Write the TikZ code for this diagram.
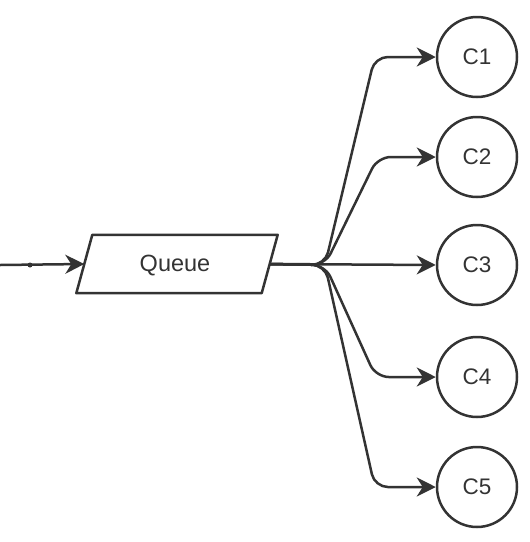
\documentclass[tikz,border=0pt]{standalone}
\usepackage{fontspec}
\setmainfont{Liberation Sans}
\usetikzlibrary{arrows.meta}
\definecolor{ink}{RGB}{51,51,51}
\begin{document}
\begin{tikzpicture}[x=1pt,y=-1pt,
  cons/.style={circle,draw=ink,line width=2.5pt,minimum size=80pt,inner sep=0pt,text=ink,font=\fontsize{22.5}{26}\selectfont},
  link/.style={draw=ink,line width=2.5pt,rounded corners=13pt,-{Stealth[length=19pt,width=19pt,inset=6pt]}},
  qbox/.style={minimum width=185pt,minimum height=58pt,inner sep=0pt},
  qtext/.style={text=ink,font=\fontsize{23.5}{27}\selectfont}]
\useasboundingbox (0,0) rectangle (530,542);
\node[qbox] (q) at (177,264) {};
\node[qtext] (qt) at (175,266) {Queue};
\draw[ink,line width=2.5pt,line join=round] ([xshift=8pt]q.north west) -- ([xshift=8pt]q.north east) -- ([xshift=-8pt]q.south east) -- ([xshift=-8pt]q.south west) -- cycle;
\node[cons] (c1) at (477,57) {C1};
\node[cons] (c2) at (477,157) {C2};
\node[cons] (c3) at (477,265) {C3};
\node[cons] (c4) at (477,377) {C4};
\node[cons] (c5) at (477,487) {C5};
\coordinate (start) at (0,265);
\coordinate (dot) at (30,265);
\coordinate (fork) at (325,265);
\draw[link] (start) -- (q.west);
\fill[ink] (dot) circle (2.5pt);
\draw[link] (q.east) -- (fork) -- ([xshift=-61pt]c1.west) -- (c1.west);
\draw[link] (q.east) -- (fork) -- ([xshift=-58pt]c2.west) -- (c2.west);
\draw[link] (q.east) -- (c3.west);
\draw[link] (q.east) -- (fork) -- ([xshift=-60pt]c4.west) -- (c4.west);
\draw[link] (q.east) -- (fork) -- ([xshift=-61pt]c5.west) -- (c5.west);
\end{tikzpicture}
\end{document}
